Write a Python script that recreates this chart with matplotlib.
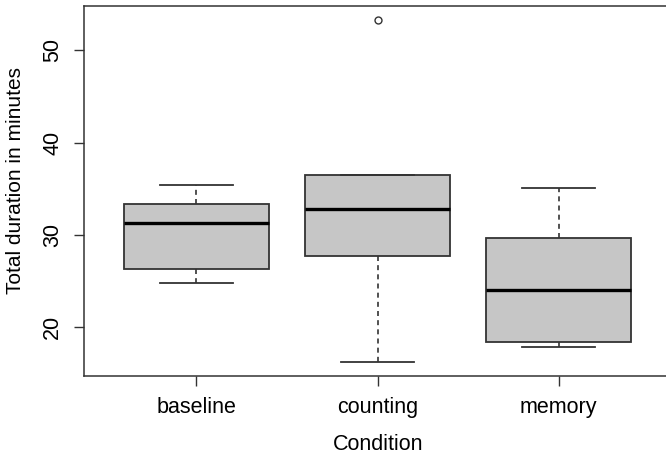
import matplotlib
matplotlib.use('Agg')
import matplotlib.pyplot as plt

conditions = ['baseline', 'counting', 'memory']
whislo = [24.8, 16.2, 17.9]
q1 = [26.3, 27.7, 18.4]
med = [31.3, 32.85, 24.0]
q3 = [33.4, 36.5, 29.7]
whishi = [35.4, 36.5, 35.1]
fliers = [[], [53.3], []]
yticks = [20, 30, 40, 50]

plt.rcParams['font.family'] = ['Liberation Sans', 'DejaVu Sans']
edge = '#333333'

stats = []
for i, name in enumerate(conditions):
    stats.append({'label': name, 'whislo': whislo[i], 'q1': q1[i], 'med': med[i],
                  'q3': q3[i], 'whishi': whishi[i], 'fliers': fliers[i]})

fig = plt.figure(figsize=(6.66, 4.58), dpi=100)
ax = fig.add_axes([84 / 666, (458 - 375.7) / 458, (671 - 84) / 666, 370 / 458])

ax.bxp(stats, positions=[1, 2, 3], widths=0.8, patch_artist=True, showfliers=True,
       boxprops=dict(facecolor='#c6c6c6', edgecolor=edge, linewidth=1.3),
       medianprops=dict(color='black', linewidth=2.4, solid_capstyle='butt'),
       whiskerprops=dict(color=edge, linewidth=1.2, linestyle=(0, (3, 2.5))),
       capprops=dict(color=edge, linewidth=1.3),
       capwidths=0.4,
       flierprops=dict(marker='o', markersize=5, markerfacecolor='none',
                       markeredgecolor=edge, markeredgewidth=1.0))

ax.set_xlim(0.38, 3.62)
ax.set_ylim(14.76, 54.83)
ax.set_yticks(yticks)
ax.set_xticks([1, 2, 3])
ax.set_xticklabels(conditions)

for s in ax.spines.values():
    s.set_color(edge)
    s.set_linewidth(1.1)

ax.tick_params(axis='both', length=7, width=1.0, color=edge, labelsize=15.5, pad=8)
ax.tick_params(axis='y', labelrotation=90)
for lbl in ax.get_yticklabels():
    lbl.set_va('center')

ax.set_xlabel('Condition', fontsize=15.5)
ax.set_ylabel('Total duration in minutes', fontsize=15)
ax.xaxis.set_label_coords((378 - 84) / 587, -(445 - 375.7) / 370)
ax.yaxis.set_label_coords(-(84 - 16) / 587, (375.7 - 180) / 370)
ax.xaxis.label.set_va('center')
ax.yaxis.label.set_va('center')

fig.savefig('out.png', dpi=100)
